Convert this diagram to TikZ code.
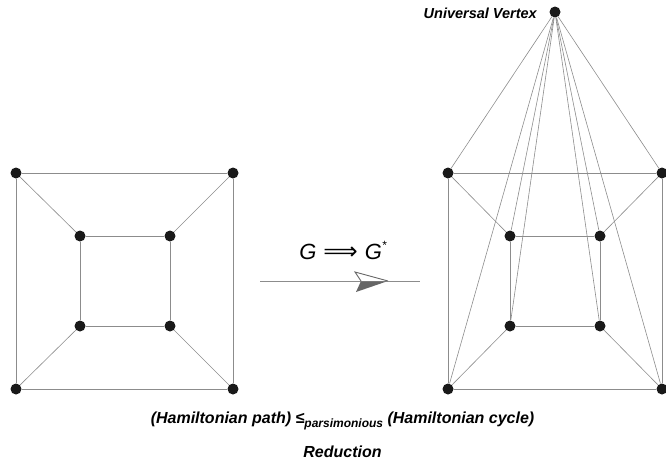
\documentclass[tikz,border=0pt]{standalone}
\usepackage{fontspec}
\setmainfont{Liberation Sans}
\newfontfamily\symfont{DejaVu Sans}
\begin{document}
\begin{tikzpicture}[x=1pt,y=-1pt,
  vtx/.style={circle,fill=black!90,inner sep=0pt,minimum size=11pt},
  edge/.style={draw=black!45,line width=0.6pt},
  lbl/.style={font=\bfseries\itshape}]
\useasboundingbox (0,0) rectangle (666,464);
% left graph
\node[vtx] (a1) at (16,173) {};
\node[vtx] (a2) at (233,173) {};
\node[vtx] (a3) at (233,389) {};
\node[vtx] (a4) at (16,389) {};
\node[vtx] (b1) at (80,236) {};
\node[vtx] (b2) at (170,236) {};
\node[vtx] (b3) at (170,326) {};
\node[vtx] (b4) at (80,326) {};
\draw[edge] (a1)--(a2)--(a3)--(a4)--(a1);
\draw[edge] (b1)--(b2)--(b3)--(b4)--(b1);
\draw[edge] (a1)--(b1) (a2)--(b2) (a3)--(b3) (a4)--(b4);
% right graph
\node[vtx] (c1) at (448,173) {};
\node[vtx] (c2) at (662,173) {};
\node[vtx] (c3) at (662,389) {};
\node[vtx] (c4) at (448,389) {};
\node[vtx] (d1) at (510,236) {};
\node[vtx] (d2) at (600,236) {};
\node[vtx] (d3) at (600,326) {};
\node[vtx] (d4) at (510,326) {};
\node[vtx] (u) at (555,12) {};
\draw[edge] (c1)--(c2)--(c3)--(c4)--(c1);
\draw[edge] (d1)--(d2)--(d3)--(d4)--(d1);
\draw[edge] (c1)--(d1) (c2)--(d2) (c3)--(d3) (c4)--(d4);
\foreach \v in {c1,c2,c3,c4,d1,d2,d3,d4} \draw[edge] (u)--(\v);
\node[font=\bfseries\itshape\fontsize{14.5}{16}\selectfont,anchor=east,inner sep=0pt] (ul) at (537,13) {Universal Vertex};
% transformation
\node[font=\itshape\fontsize{22}{26}\selectfont,inner sep=0pt] (t) at (343,250.5)
  {G\hspace{7pt}{\upshape\symfont\fontsize{24}{26}\selectfont ⟹}\hspace{7pt}G\raisebox{0.45em}{\fontsize{12}{13}\selectfont *}};
\coordinate (l1) at (260,281);
\coordinate (l2) at (420,281);
\draw[edge] (l1)--(l2);
\coordinate (tip) at (388,281);
\coordinate (bt) at (355,272);
\coordinate (nt) at (361,281);
\coordinate (bb) at (356,292);
\fill[black!60] (tip)--(bb)--(nt)--cycle;
\draw[black!60,line width=0.9pt,fill=white,line join=miter] (nt)--(bt)--(tip);
% caption
\node[font=\bfseries\itshape\fontsize{16}{18}\selectfont,inner sep=0pt] (cap) at (342.5,421) {(Hamiltonian path) ≤\raisebox{-0.3em}{\fontsize{12}{13}\selectfont parsimonious} (Hamiltonian cycle)};
\node[font=\bfseries\itshape\fontsize{16}{18}\selectfont,inner sep=0pt] (red) at (342.5,452) {Reduction};
\end{tikzpicture}
\end{document}
